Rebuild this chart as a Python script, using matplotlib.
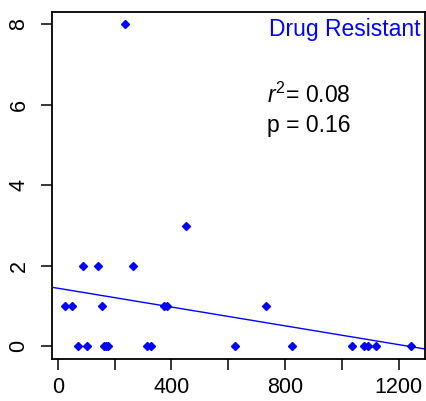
import numpy as np
import matplotlib
matplotlib.use('Agg')
import matplotlib.pyplot as plt

plt.rcParams['font.family'] = ['Liberation Sans', 'DejaVu Sans']
plt.rcParams['mathtext.fontset'] = 'custom'
plt.rcParams['mathtext.rm'] = 'Liberation Sans'
plt.rcParams['mathtext.it'] = 'Liberation Sans:italic'

# Drug resistant isolates
x_vals = [70, 103, 164, 171, 178, 313, 327, 624, 825, 1034, 1077, 1092, 1118, 1243,
          27, 49, 155, 375, 383, 734,
          88, 143, 266,
          450,
          238]
y_vals = [0, 0, 0, 0, 0, 0, 0, 0, 0, 0, 0, 0, 0, 0,
          1, 1, 1, 1, 1, 1,
          2, 2, 2,
          3,
          8]
label = 'Drug Resistant'
r2_text = '0.08'
p_text = '0.16'
x_ticks = [0, 200, 400, 600, 800, 1000, 1200]
x_ticklabels = ['0', '', '400', '', '800', '', '1200']
y_ticks = [0, 2, 4, 6, 8]

x = np.array(x_vals, dtype=float)
y = np.array(y_vals, dtype=float)
slope, intercept = np.polyfit(x, y, 1)

fig = plt.figure(figsize=(4.27, 4.01), dpi=100)
ax = fig.add_axes([0.121, 0.104, 0.874, 0.8673])

blue = '#0000FF'
ax.plot(x, y, linestyle='none', marker='D', markersize=4.2, color=blue)
ax.axline((0, intercept), slope=slope, color=blue, linewidth=1.0)

# R-style 4% padding on both axes
xpad = 0.04 * (x.max() - x.min())
ypad = 0.04 * (y.max() - y.min())
ax.set_xlim(x.min() - xpad, x.max() + xpad)
ax.set_ylim(y.min() - ypad, y.max() + ypad)

ax.set_xticks(x_ticks)
ax.set_xticklabels(x_ticklabels)
ax.set_yticks(y_ticks)
ax.set_yticklabels([str(v) for v in y_ticks], rotation=90, va='center')
ax.tick_params(axis='both', direction='out', length=8, width=1.1, labelsize=15.5)
ax.tick_params(axis='x', pad=5)
ax.tick_params(axis='y', pad=8)
for s in ax.spines.values():
    s.set_linewidth(1.3)

ax.text(1277, 7.70, label, color=blue, fontsize=16.5, ha='right', va='baseline')
ax.text(735, 6.04, r'$r^2$= ' + r2_text, fontsize=16.5, ha='left', va='baseline')
ax.text(735, 5.32, 'p = ' + p_text, fontsize=16.5, ha='left', va='baseline')

fig.savefig('out.png', dpi=100)
